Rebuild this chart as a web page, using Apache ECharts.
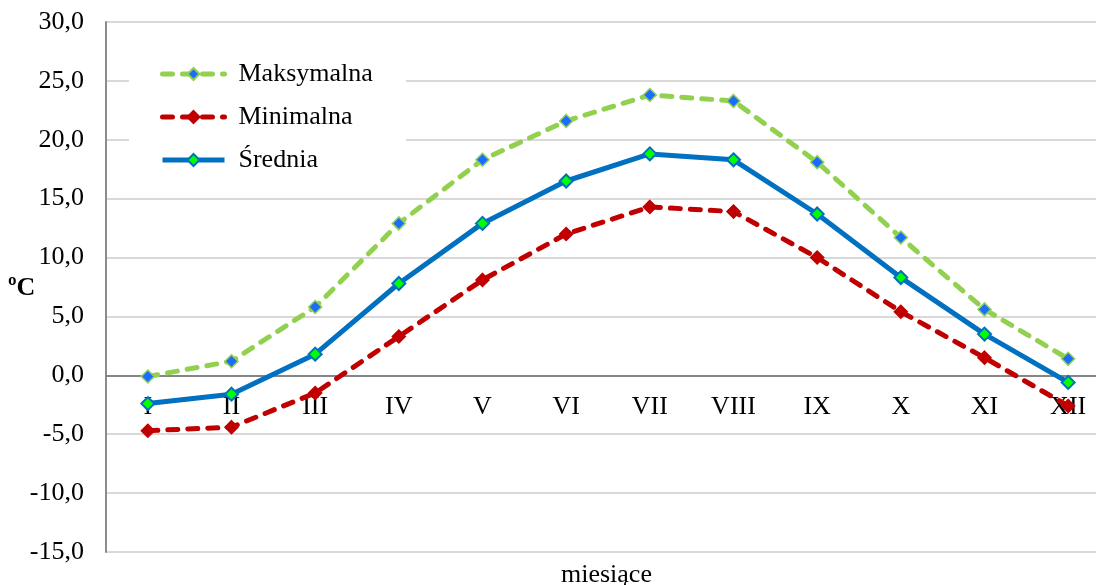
<!DOCTYPE html>
<html>
<head>
<meta charset="utf-8">
<title>Temperatura</title>
<script src="https://cdn.jsdelivr.net/npm/echarts@6/dist/echarts.min.js"></script>
<style>
  html, body { margin: 0; padding: 0; background: #fff; }
  #chart { width: 1096px; height: 585px; }
</style>
</head>
<body>
<div id="chart"></div>
<script>
// miesiące
const months = ['I', 'II', 'III', 'IV', 'V', 'VI', 'VII', 'VIII', 'IX', 'X', 'XI', 'XII']

// temperatury (ºC)
const maxTemp = [-0.1, 1.2, 5.8, 12.9, 18.3, 21.6, 23.8, 23.3, 18.1, 11.7, 5.6, 1.4]
const minTemp = [-4.7, -4.4, -1.5, 3.3, 8.1, 12.0, 14.3, 13.9, 10.0, 5.4, 1.5, -2.6]
const avgTemp = [-2.4, -1.6, 1.8, 7.8, 12.9, 16.5, 18.8, 18.3, 13.7, 8.3, 3.5, -0.6]

const seriesNames = ['Maksymalna', 'Minimalna', 'Średnia']

const font = "'Liberation Serif', 'Times New Roman', serif"

// obszar wykresu
const gridTop = 22
const gridHeight = 530
const yMin = -15
const yMax = 30
// oś kategorii leży na wartości 0
const zeroOffset = -gridHeight * (0 - yMin) / (yMax - yMin)

const chart = echarts.init(document.getElementById('chart'))

const option = {
  animation: false,
  backgroundColor: '#fff',
  textStyle: { fontFamily: font, color: '#000' },
  title: [
    {
      text: 'ºC',
      left: 8,
      top: 275,
      padding: 0,
      textStyle: { fontFamily: font, fontSize: 26, fontWeight: 'bold', color: '#000' }
    },
    {
      text: 'miesiące',
      left: 561,
      top: 562,
      padding: 0,
      textStyle: { fontFamily: font, fontSize: 26, fontWeight: 'normal', color: '#000' }
    }
  ],
  legend: {
    data: seriesNames,
    orient: 'vertical',
    left: 129,
    top: 50,
    backgroundColor: '#fff',
    padding: [11, 33, 12, 31],
    itemGap: 17,
    itemWidth: 62,
    itemHeight: 15,
    lineStyle: { width: 5 },
    textStyle: { fontFamily: font, fontSize: 26, color: '#000', lineHeight: 26, padding: [0, 0, 0, 9] }
  },
  grid: {
    left: 106,
    top: gridTop,
    width: 1004,
    height: gridHeight,
    outerBoundsMode: 'none',
    containLabel: false
  },
  xAxis: {
    type: 'category',
    data: months,
    boundaryGap: true,
    offset: zeroOffset,
    axisLine: { onZero: false, lineStyle: { color: '#868686', width: 2 } },
    axisTick: { show: false },
    axisLabel: { fontFamily: font, fontSize: 26, color: '#000', margin: 19 },
    splitLine: { show: false },
    z: 1
  },
  yAxis: {
    type: 'value',
    min: yMin,
    max: yMax,
    interval: 5,
    axisLine: { show: true, lineStyle: { color: '#8c8c8c', width: 2 } },
    axisTick: { show: false },
    axisLabel: {
      fontFamily: font,
      fontSize: 26,
      color: '#000',
      margin: 22,
      formatter: v => v.toFixed(1).replace('.', ',')
    },
    splitLine: { lineStyle: { color: '#d9d9d9', width: 2 } }
  },
  series: [
    {
      name: 'Maksymalna',
      type: 'line',
      data: maxTemp,
      symbol: 'diamond',
      symbolSize: 13,
      lineStyle: { color: '#92d050', width: 5, type: [10, 10], cap: 'round' },
      itemStyle: { color: '#1a6dff', borderColor: '#92d050', borderWidth: 1.5 }
    },
    {
      name: 'Minimalna',
      type: 'line',
      data: minTemp,
      symbol: 'diamond',
      symbolSize: 13,
      lineStyle: { color: '#c00000', width: 5, type: [10, 10], cap: 'round' },
      itemStyle: { color: '#c00000', borderColor: '#c00000', borderWidth: 1.5 }
    },
    {
      name: 'Średnia',
      type: 'line',
      data: avgTemp,
      symbol: 'diamond',
      symbolSize: 13,
      lineStyle: { color: '#0070c0', width: 5 },
      itemStyle: { color: '#00ff00', borderColor: '#0070c0', borderWidth: 2 }
    }
  ]
}

chart.setOption(option)
</script>
</body>
</html>
